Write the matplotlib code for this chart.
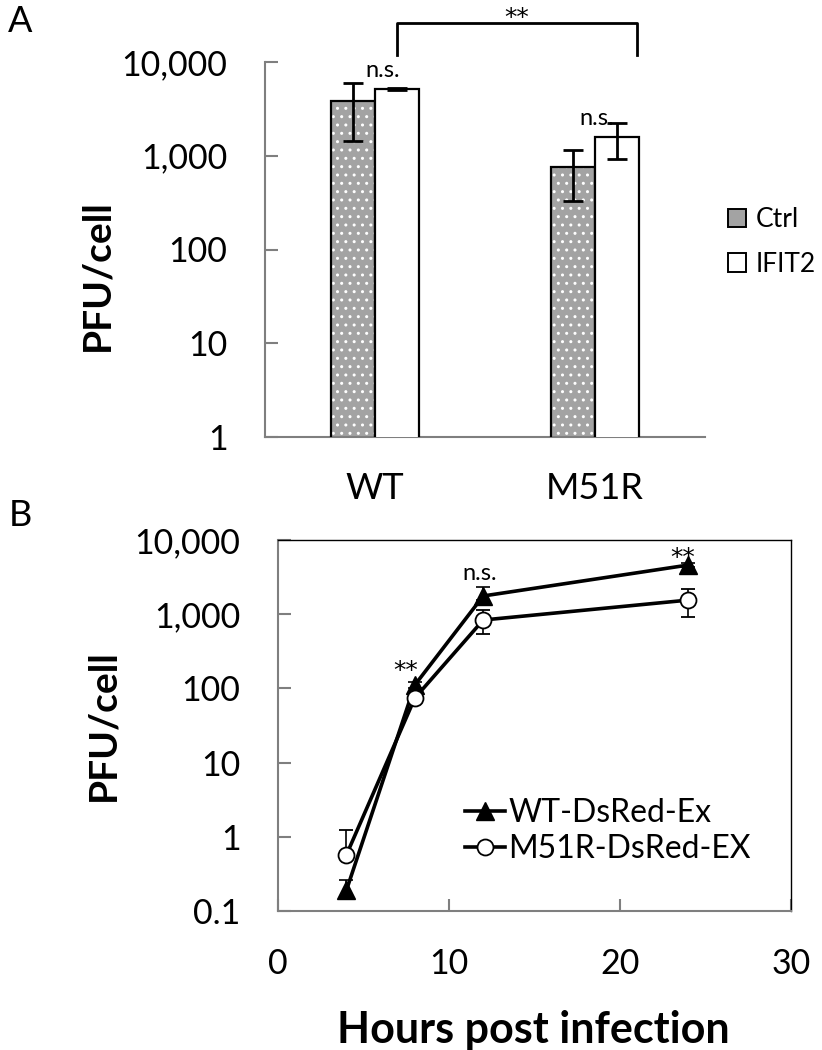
import numpy as np
import matplotlib
matplotlib.use("Agg")
import matplotlib.pyplot as plt
from matplotlib.ticker import FixedLocator, FixedFormatter, NullLocator
from matplotlib.patches import Patch
from matplotlib.lines import Line2D

plt.rcParams['font.family'] = ['Lato', 'DejaVu Sans']
plt.rcParams['hatch.linewidth'] = 1.0

# ---------------- Data: panel A ----------------
strains = ["WT", "M51R"]
ctrl_vals = [3800, 750]
ctrl_err_low = [3800 - 1450, 750 - 330]
ctrl_err_high = [6000 - 3800, 1160 - 750]
ifit2_vals = [5150, 1570]
ifit2_err_low = [150, 1570 - 920]
ifit2_err_high = [150, 2230 - 1570]
legend_a = ["Ctrl", "IFIT2"]
yticks_a = [1, 10, 100, 1000, 10000]
yticklabels_a = ["1", "10", "100", "1,000", "10,000"]
ns_labels_a = ["n.s.", "n.s."]
sig_label_a = "**"

# ---------------- Data: panel B ----------------
hours = [4, 8, 12, 24]
wt_vals = [0.19, 111, 1760, 4600]
wt_err_low = [0.03, 10, 200, 300]
wt_err_high = [0.07, 10, 2330 - 1760, 300]
m51r_vals = [0.57, 74, 835, 1550]
m51r_err_low = [0.05, 6, 835 - 540, 1550 - 910]
m51r_err_high = [1.23 - 0.57, 6, 1140 - 835, 2180 - 1550]
series_b = ["WT-DsRed-Ex", "M51R-DsRed-EX"]
yticks_b = [0.1, 1, 10, 100, 1000, 10000]
yticklabels_b = ["0.1", "1", "10", "100", "1,000", "10,000"]
xticks_b = [0, 10, 20, 30]
sig_labels_b = ["**", "n.s.", "**"]   # at 8, 12, 24 h
sig_hours_b = [8, 12, 24]

W, H = 822, 1050
fig = plt.figure(figsize=(W / 100, H / 100), dpi=100)

def fx(px):
    return px / W

def fy(py):
    return 1 - py / H

spine_gray = '#7f7f7f'
tick_fs = 24.5
star_fs = 18
star_family = ['DejaVu Sans']
ns_fs = 17

# ================= Panel A =================
axA = fig.add_axes([fx(265), fy(437), fx(705) - fx(265), fy(62) - fy(437)])
axA.set_yscale('log')
axA.set_ylim(1, 10000)
axA.set_xlim(-0.5, 1.5)
x = np.arange(len(strains))
bw = 0.2
gray = '#a3a3a3'
# Ctrl bars: gray with white dot pattern
axA.bar(x - bw / 2, ctrl_vals, width=bw, color=gray, edgecolor='white',
        linewidth=0, hatch='..', zorder=2)
axA.bar(x - bw / 2, ctrl_vals, width=bw, fill=False, edgecolor='black',
        linewidth=1.6, zorder=3)
axA.bar(x + bw / 2, ifit2_vals, width=bw, color='white', edgecolor='black',
        linewidth=1.6, zorder=3)
axA.errorbar(x - bw / 2, ctrl_vals, yerr=[ctrl_err_low, ctrl_err_high], fmt='none',
             ecolor='black', elinewidth=2.0, capsize=7, capthick=2.0, zorder=4)
axA.errorbar(x + bw / 2, ifit2_vals, yerr=[ifit2_err_low, ifit2_err_high], fmt='none',
             ecolor='black', elinewidth=2.0, capsize=7, capthick=2.0, zorder=4)

axA.spines['top'].set_visible(False)
axA.spines['right'].set_visible(False)
for s in ['left', 'bottom']:
    axA.spines[s].set_color(spine_gray)
    axA.spines[s].set_linewidth(1.5)
axA.yaxis.set_major_locator(FixedLocator(yticks_a))
axA.yaxis.set_major_formatter(FixedFormatter(yticklabels_a))
axA.yaxis.set_minor_locator(NullLocator())
axA.tick_params(axis='y', direction='in', length=9, width=1.5, color=spine_gray,
                labelsize=tick_fs, pad=27)
axA.set_xticks(x)
axA.set_xticklabels(strains)
axA.tick_params(axis='x', length=0, labelsize=26, pad=25)

# n.s. labels above IFIT2 bars
for xi, v, lab, dx in zip(x, ifit2_vals, ns_labels_a, [-14, -20]):
    axA.annotate(lab, xy=(xi + bw / 2, v), xytext=(dx, 19), textcoords='offset pixels',
                 ha='center', va='center', fontsize=ns_fs)

# bracket with **
trA = axA.get_xaxis_transform()
bx0, bx1 = x[0] + bw / 2, x[1] + bw / 2 + 0.09
yb0, yb1 = 1.019, 1.104
axA.plot([bx0, bx0, bx1, bx1], [yb0, yb1, yb1, yb0], color='black', lw=2.0,
         transform=trA, clip_on=False)
axA.text((bx0 + bx1) / 2, 1.118, sig_label_a, transform=trA, ha='center', va='center',
         fontsize=star_fs, family=star_family)

legA_handles = [Patch(facecolor=gray, edgecolor='black', linewidth=1.4),
                Patch(facecolor='white', edgecolor='black', linewidth=1.4)]
fig.legend(legA_handles, legend_a, loc='center left', bbox_to_anchor=(fx(728), fy(242)),
           frameon=False, fontsize=19, handlelength=0.7, handleheight=0.7,
           handletextpad=0.35, labelspacing=0.75, borderpad=0, borderaxespad=0)

fig.text(fx(97), fy(275), 'PFU/cell', rotation=90, ha='center', va='center',
         fontsize=28, fontweight='bold')
fig.text(fx(20), fy(22), 'A', ha='center', va='center', fontsize=26)

# ================= Panel B =================
axB = fig.add_axes([fx(278), fy(911), fx(791) - fx(278), fy(540) - fy(911)])
axB.set_yscale('log')
axB.set_ylim(0.1, 10000)
axB.set_xlim(0, 30)
axB.errorbar(hours, wt_vals, yerr=[wt_err_low, wt_err_high], color='black', lw=2.6,
             marker='^', markersize=13, markerfacecolor='black', markeredgecolor='black',
             ecolor='black', elinewidth=1.2, capsize=5, capthick=1.2, zorder=3,
             label=series_b[0])
axB.errorbar(hours, m51r_vals, yerr=[m51r_err_low, m51r_err_high], color='black', lw=2.6,
             marker='o', markersize=11.5, markerfacecolor='white', markeredgecolor='black',
             markeredgewidth=1.3, ecolor='black', elinewidth=1.2, capsize=5, capthick=1.2,
             zorder=4, label=series_b[1])
for s in axB.spines.values():
    s.set_color(spine_gray)
    s.set_linewidth(1.5)
axB.spines['top'].set_color('black')
axB.spines['right'].set_color('black')
axB.spines['top'].set_linewidth(1.0)
axB.spines['right'].set_linewidth(1.0)
axB.yaxis.set_major_locator(FixedLocator(yticks_b))
axB.yaxis.set_major_formatter(FixedFormatter(yticklabels_b))
axB.yaxis.set_minor_locator(NullLocator())
axB.set_xticks(xticks_b)
axB.tick_params(axis='y', direction='in', length=9, width=1.5, color=spine_gray,
                labelsize=tick_fs, pad=27)
axB.tick_params(axis='x', direction='in', length=9, width=1.5, color=spine_gray,
                labelsize=tick_fs, pad=27)

offsets_b = [(-9, 14), (-4, 22), (-6, 7)]
sizes_b = [star_fs, ns_fs, star_fs]
families_b = [star_family, ['Lato'], star_family]
for h, lab, off, fs, fam in zip(sig_hours_b, sig_labels_b, offsets_b, sizes_b, families_b):
    v = wt_vals[hours.index(h)]
    axB.annotate(lab, xy=(h, v), xytext=off, textcoords='offset pixels',
                 ha='center', va='center', fontsize=fs, family=fam)

legB_handles = [Line2D([0], [0], color='black', lw=2.6, marker='^', markersize=13,
                       markerfacecolor='black'),
                Line2D([0], [0], color='black', lw=2.6, marker='o', markersize=11.5,
                       markerfacecolor='white', markeredgewidth=1.3)]
fig.legend(legB_handles, series_b, loc='center left', bbox_to_anchor=(fx(465), fy(831)),
           frameon=False, fontsize=23, handlelength=1.25, handletextpad=0.1,
           labelspacing=0.2, borderpad=0, borderaxespad=0)

fig.text(fx(103), fy(725), 'PFU/cell', rotation=90, ha='center', va='center',
         fontsize=28, fontweight='bold')
fig.text(fx(533), fy(1030), 'Hours post infection', ha='center', va='center',
         fontsize=31, fontweight='bold')
fig.text(fx(20), fy(515), 'B', ha='center', va='center', fontsize=26)

fig.savefig('out.png', dpi=100)
